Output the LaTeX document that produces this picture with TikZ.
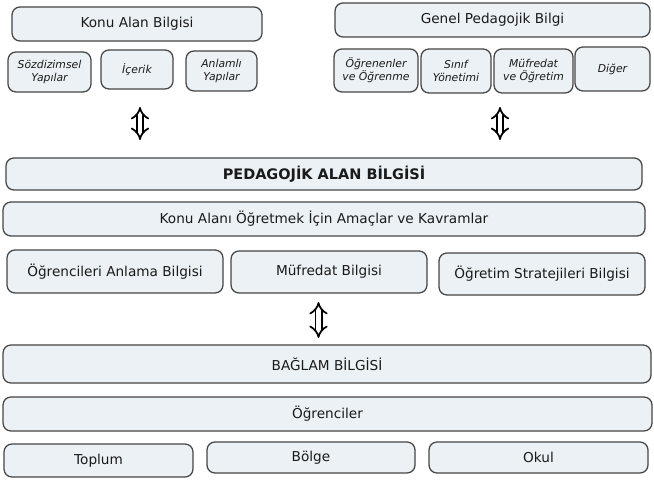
\documentclass[tikz,border=0pt]{standalone}
\usepackage{fontspec}
\setmainfont{DejaVu Sans}
\usetikzlibrary{arrows.meta}
\definecolor{boxfill}{HTML}{EBF1F4}
\definecolor{boxline}{HTML}{454545}
\definecolor{boxtext}{HTML}{1A1A1A}
\tikzset{
  box/.style={draw=boxline, fill=boxfill, line width=0.9pt, rounded corners=2mm, align=center, inner sep=2pt, text=boxtext, font=\fontsize{9.7}{11}\selectfont},
  smallbox/.style={box, font=\fontsize{7.7}{9.4}\selectfont\itshape},
  titlebox/.style={box, font=\fontsize{10.3}{12}\selectfont\bfseries},
  dblarrow/.style={{Implies}-{Implies}, double, double distance=3.2pt, line width=1.25pt, black}
}
\begin{document}
\begin{tikzpicture}
\useasboundingbox (0,0) rectangle (16.35,12.075);
% subject matter knowledge
\node[box, minimum width=6.25cm, minimum height=0.85cm] (kab) at (3.425,11.475) {Konu Alan Bilgisi};
\node[smallbox, minimum width=2.075cm, minimum height=1.0cm] (soz) at (1.2375,10.275) {Sözdizimsel\\Yapılar};
\node[smallbox, minimum width=1.8cm, minimum height=0.975cm] (icerik) at (3.425,10.3375) {İçerik};
\node[smallbox, minimum width=1.775cm, minimum height=1.0cm] (anlamli) at (5.5375,10.3) {Anlamlı\\Yapılar};
% general pedagogical knowledge
\node[box, minimum width=7.875cm, minimum height=0.85cm] (gpb) at (12.3125,11.575) {Genel Pedagojik Bilgi};
\node[smallbox, minimum width=2.1cm, minimum height=1.075cm] (ogrenen) at (9.4,10.3125) {Öğrenenler\\ve Öğrenme};
\node[smallbox, minimum width=1.75cm, minimum height=1.1cm] (sinif) at (11.4,10.3) {Sınıf\\Yönetimi};
\node[smallbox, minimum width=1.975cm, minimum height=1.1cm] (mufogr) at (13.3375,10.3) {Müfredat\\ve Öğretim};
\node[smallbox, minimum width=1.875cm, minimum height=1.1cm] (diger) at (15.3125,10.35) {Diğer};
% arrows to PCK
\coordinate (la1) at (3.5,9.4);
\coordinate (la2) at (3.5,8.575);
\coordinate (ra1) at (12.5,9.4);
\coordinate (ra2) at (12.5,8.575);
\draw[dblarrow] (la1) -- (la2);
\draw[dblarrow] (ra1) -- (ra2);
% pedagogical content knowledge
\node[titlebox, minimum width=15.9cm, minimum height=0.8cm] (pab) at (8.1,7.725) {PEDAGOJİK ALAN BİLGİSİ};
\node[box, minimum width=16.05cm, minimum height=0.85cm] (amac) at (8.1,6.6) {Konu Alanı Öğretmek İçin Amaçlar ve Kavramlar};
\node[box, minimum width=5.4cm, minimum height=1.075cm] (anlama) at (2.875,5.2875) {Öğrencileri Anlama Bilgisi};
\node[box, minimum width=4.9cm, minimum height=1.05cm] (mufredat) at (8.225,5.275) {Müfredat Bilgisi};
\node[box, minimum width=5.15cm, minimum height=1.05cm] (strateji) at (13.55,5.225) {Öğretim Stratejileri Bilgisi};
% arrow to context
\coordinate (ma1) at (7.9625,4.525);
\coordinate (ma2) at (7.9625,3.625);
\draw[dblarrow] (ma1) -- (ma2);
% context knowledge
\node[box, minimum width=16.2cm, minimum height=0.95cm] (baglam) at (8.175,2.975) {BAĞLAM BİLGİSİ};
\node[box, minimum width=16.225cm, minimum height=0.85cm] (ogrenci) at (8.1875,1.725) {Öğrenciler};
\node[box, minimum width=4.725cm, minimum height=0.825cm] (toplum) at (2.4625,0.5625) {Toplum};
\node[box, minimum width=5.2cm, minimum height=0.775cm] (bolge) at (7.775,0.6375) {Bölge};
\node[box, minimum width=5.475cm, minimum height=0.775cm] (okul) at (13.4625,0.6375) {Okul};
\end{tikzpicture}
\end{document}
